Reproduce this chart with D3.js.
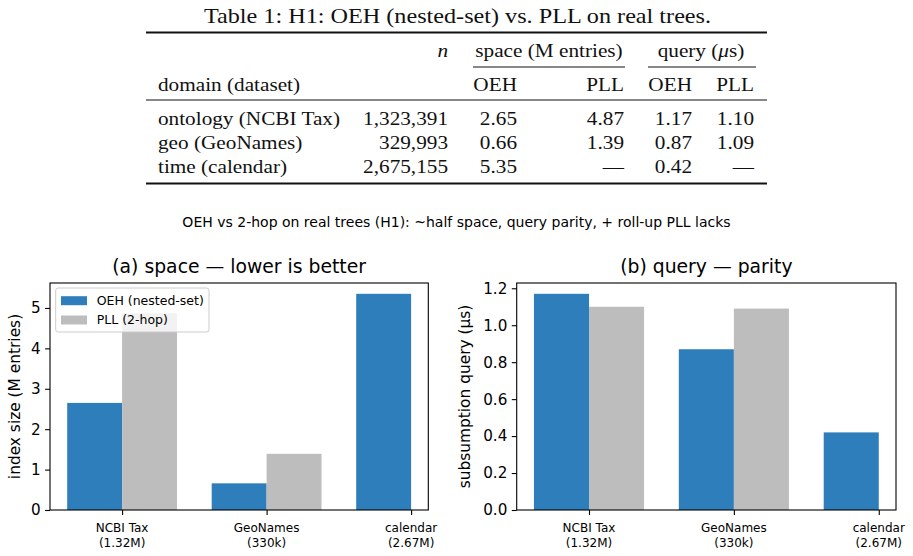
<!DOCTYPE html>
<html>
<head>
<meta charset="utf-8">
<script src="https://cdn.jsdelivr.net/npm/d3@7"></script>
<style>
body { margin: 0; background: #fff; }
</style>
</head>
<body>
<div id="chart"></div>
<script>
// data
var categories = ["NCBI Tax", "GeoNames", "calendar"];
var categorySizes = ["(1.32M)", "(330k)", "(2.67M)"];
var domainNames = ["ontology (NCBI Tax)", "geo (GeoNames)", "time (calendar)"];
var nodeCounts = [1323391, 329993, 2675155];
var spaceOEH = [2.65, 0.66, 5.35];
var spacePLL = [4.87, 1.39, null];
var queryOEH = [1.17, 0.87, 0.42];
var queryPLL = [1.10, 1.09, null];
var spaceTicks = [0, 1, 2, 3, 4, 5];
var queryTicks = [0, 0.2, 0.4, 0.6, 0.8, 1.0, 1.2];
var seriesNames = ["OEH (nested-set)", "PLL (2-hop)"];

var oehColor = "#2f7ebc", pllColor = "#bdbdbd";
var W = 913, H = 556;

var svg = d3.select("#chart")
    .append("svg")
        .attr("width", W)
        .attr("height", H);

// ---------- LaTeX style table ----------
var table = svg.append("g").style("font-family", "'Liberation Serif', 'Times New Roman', serif");

function cell(x, y, txt, anchor, size, sx) {
    var g = table.append("g")
        .attr("transform", "translate(" + x + "," + y + ") scale(" + sx + ",1)");
    var t = g.append("text")
        .attr("text-anchor", anchor)
        .style("font-size", size + "px")
        .attr("fill", "#111");
    if (typeof txt === "string") t.text(txt);
    else txt(t);
    return t;
}
function rule(x1, x2, y, w) {
    table.append("line")
        .attr("x1", x1).attr("x2", x2)
        .attr("y1", y).attr("y2", y)
        .attr("stroke", "#111")
        .attr("stroke-width", w);
}

var fs = 18, sx = 1.18;
cell(457.5, 22.7, "Table 1: H1: OEH (nested-set) vs. PLL on real trees.", "middle", 22, 1.1);
rule(146, 767, 32.5, 1.8);

// column right edges
var colN = 448, colSO = 517, colSP = 624, colQO = 692, colQP = 754, colDom = 158;

cell(colN, 57, function(t) { t.style("font-style", "italic").text("n"); }, "end", fs, sx);
cell(549, 57, "space (M entries)", "middle", fs, sx);
cell(701, 57, function(t) {
    t.append("tspan").text("query (");
    t.append("tspan").style("font-style", "italic").text("μ");
    t.append("tspan").text("s)");
}, "middle", fs, sx);
rule(473, 625, 67, 1);
rule(648, 756, 67, 1);

cell(colDom, 91, "domain (dataset)", "start", fs, sx);
cell(colSO, 91, "OEH", "end", fs, sx);
cell(colSP, 91, "PLL", "end", fs, sx);
cell(colQO, 91, "OEH", "end", fs, sx);
cell(colQP, 91, "PLL", "end", fs, sx);
rule(146, 767, 100, 1.1);

var rowY = [125, 149.3, 172.7];
var fmtN = d3.format(",");
function fmtV(v) { return v == null ? "—" : v.toFixed(2); }
domainNames.forEach(function(d, i) {
    cell(colDom, rowY[i], d, "start", fs, sx);
    cell(colN, rowY[i], fmtN(nodeCounts[i]), "end", fs, sx);
    cell(colSO, rowY[i], fmtV(spaceOEH[i]), "end", fs, sx);
    cell(colSP, rowY[i], fmtV(spacePLL[i]), "end", fs, sx);
    cell(colQO, rowY[i], fmtV(queryOEH[i]), "end", fs, sx);
    cell(colQP, rowY[i], fmtV(queryPLL[i]), "end", fs, sx);
});
rule(146, 767, 183.5, 1.8);

// ---------- figure ----------
var fig = svg.append("g").style("font-family", "'DejaVu Sans', sans-serif");

fig.append("text")
    .attr("x", W / 2)
    .attr("y", 227)
    .attr("text-anchor", "middle")
    .style("font-size", "14px")
    .text("OEH vs 2-hop on real trees (H1): ~half space, query parity, + roll-up PLL lacks");

var barW = 0.38;

function drawPanel(p) {
    var g = fig.append("g");
    var idx = d3.range(categories.length);

    // x limits like matplotlib: data extent plus 5% margin
    var lo = -barW, hi = 0;
    idx.forEach(function(i) {
        hi = Math.max(hi, i);
        if (p.pll[i] != null) hi = Math.max(hi, i + barW);
    });
    var m = (hi - lo) * 0.05;
    var x = d3.scaleLinear().domain([lo - m, hi + m]).range([p.left, p.right]);
    var y = d3.scaleLinear()
        .domain([0, 1.05 * d3.max(p.oeh.concat(p.pll))])
        .range([p.bottom, p.top]);

    // OEH bars
    g.selectAll(".oeh")
        .data(idx)
        .enter().append("rect")
        .attr("class", "oeh")
        .attr("fill", oehColor)
        .attr("x", function(i) { return x(i - barW); })
        .attr("width", function(i) { return x(i) - x(i - barW); })
        .attr("y", function(i) { return y(p.oeh[i]); })
        .attr("height", function(i) { return y(0) - y(p.oeh[i]); });

    // PLL bars (missing for calendar)
    g.selectAll(".pll")
        .data(idx.filter(function(i) { return p.pll[i] != null; }))
        .enter().append("rect")
        .attr("class", "pll")
        .attr("fill", pllColor)
        .attr("x", function(i) { return x(i); })
        .attr("width", function(i) { return x(i + barW) - x(i); })
        .attr("y", function(i) { return y(p.pll[i]); })
        .attr("height", function(i) { return y(0) - y(p.pll[i]); });

    // y axis
    var yAxis = g.append("g")
        .attr("transform", "translate(" + p.left + ",0)")
        .call(d3.axisLeft(y).tickValues(p.ticks).tickFormat(p.fmt).tickSize(4.9).tickPadding(4.5));
    yAxis.select(".domain").remove();
    yAxis.selectAll("text").style("font-size", "15.2px").attr("fill", "#000").attr("font-family", "DejaVu Sans");
    yAxis.selectAll("line").attr("stroke", "#000").attr("stroke-width", 1.1);

    // x axis
    var xAxis = g.append("g")
        .attr("transform", "translate(0," + p.bottom + ")")
        .call(d3.axisBottom(x).tickValues(idx).tickFormat("").tickSize(4.9));
    xAxis.select(".domain").remove();
    xAxis.selectAll("line").attr("stroke", "#000").attr("stroke-width", 1.1);
    idx.forEach(function(i) {
        var t = g.append("text")
            .attr("text-anchor", "middle")
            .style("font-size", "12px");
        t.append("tspan").attr("x", x(i)).attr("y", p.bottom + 21.7).text(categories[i]);
        t.append("tspan").attr("x", x(i)).attr("y", p.bottom + 36.7).text(categorySizes[i]);
    });

    // frame
    g.append("rect")
        .attr("x", p.left).attr("y", p.top)
        .attr("width", p.right - p.left).attr("height", p.bottom - p.top)
        .attr("fill", "none")
        .attr("stroke", "#000")
        .attr("stroke-width", 1.1);

    // title
    g.append("text")
        .attr("x", (p.left + p.right) / 2)
        .attr("y", p.top - 10)
        .attr("text-anchor", "middle")
        .style("font-size", "18.8px")
        .text(p.title);

    // y label
    g.append("text")
        .attr("transform", "translate(" + p.labelX + "," + ((p.top + p.bottom) / 2) + ") rotate(-90)")
        .attr("text-anchor", "middle")
        .style("font-size", "15.4px")
        .text(p.ylabel);

    if (p.legend) {
        var lg = g.append("g").attr("transform", "translate(" + (p.left + 5.7) + "," + (p.top + 5) + ")");
        lg.append("rect")
            .attr("width", 153.3).attr("height", 44)
            .attr("rx", 2.5)
            .attr("fill", "#fff").attr("fill-opacity", 0.8)
            .attr("stroke", "#cccccc").attr("stroke-width", 1);
        [oehColor, pllColor].forEach(function(c, k) {
            lg.append("rect")
                .attr("x", 5.3).attr("y", 8.2 + k * 19.3)
                .attr("width", 26).attr("height", 9)
                .attr("fill", c);
            lg.append("text")
                .attr("x", 41)
                .attr("y", 17 + k * 19.3)
                .style("font-size", "12.5px")
                .text(seriesNames[k]);
        });
    }
}

drawPanel({
    left: 50, right: 428.3, top: 283, bottom: 510,
    oeh: spaceOEH, pll: spacePLL, ticks: spaceTicks, fmt: d3.format("d"),
    title: "(a) space — lower is better",
    ylabel: "index size (M entries)", labelX: 19.5, legend: true
});

drawPanel({
    left: 516.7, right: 896, top: 283, bottom: 510,
    oeh: queryOEH, pll: queryPLL, ticks: queryTicks, fmt: d3.format(".1f"),
    title: "(b) query — parity",
    ylabel: "subsumption query (µs)", labelX: 470, legend: false
});
</script>
</body>
</html>
